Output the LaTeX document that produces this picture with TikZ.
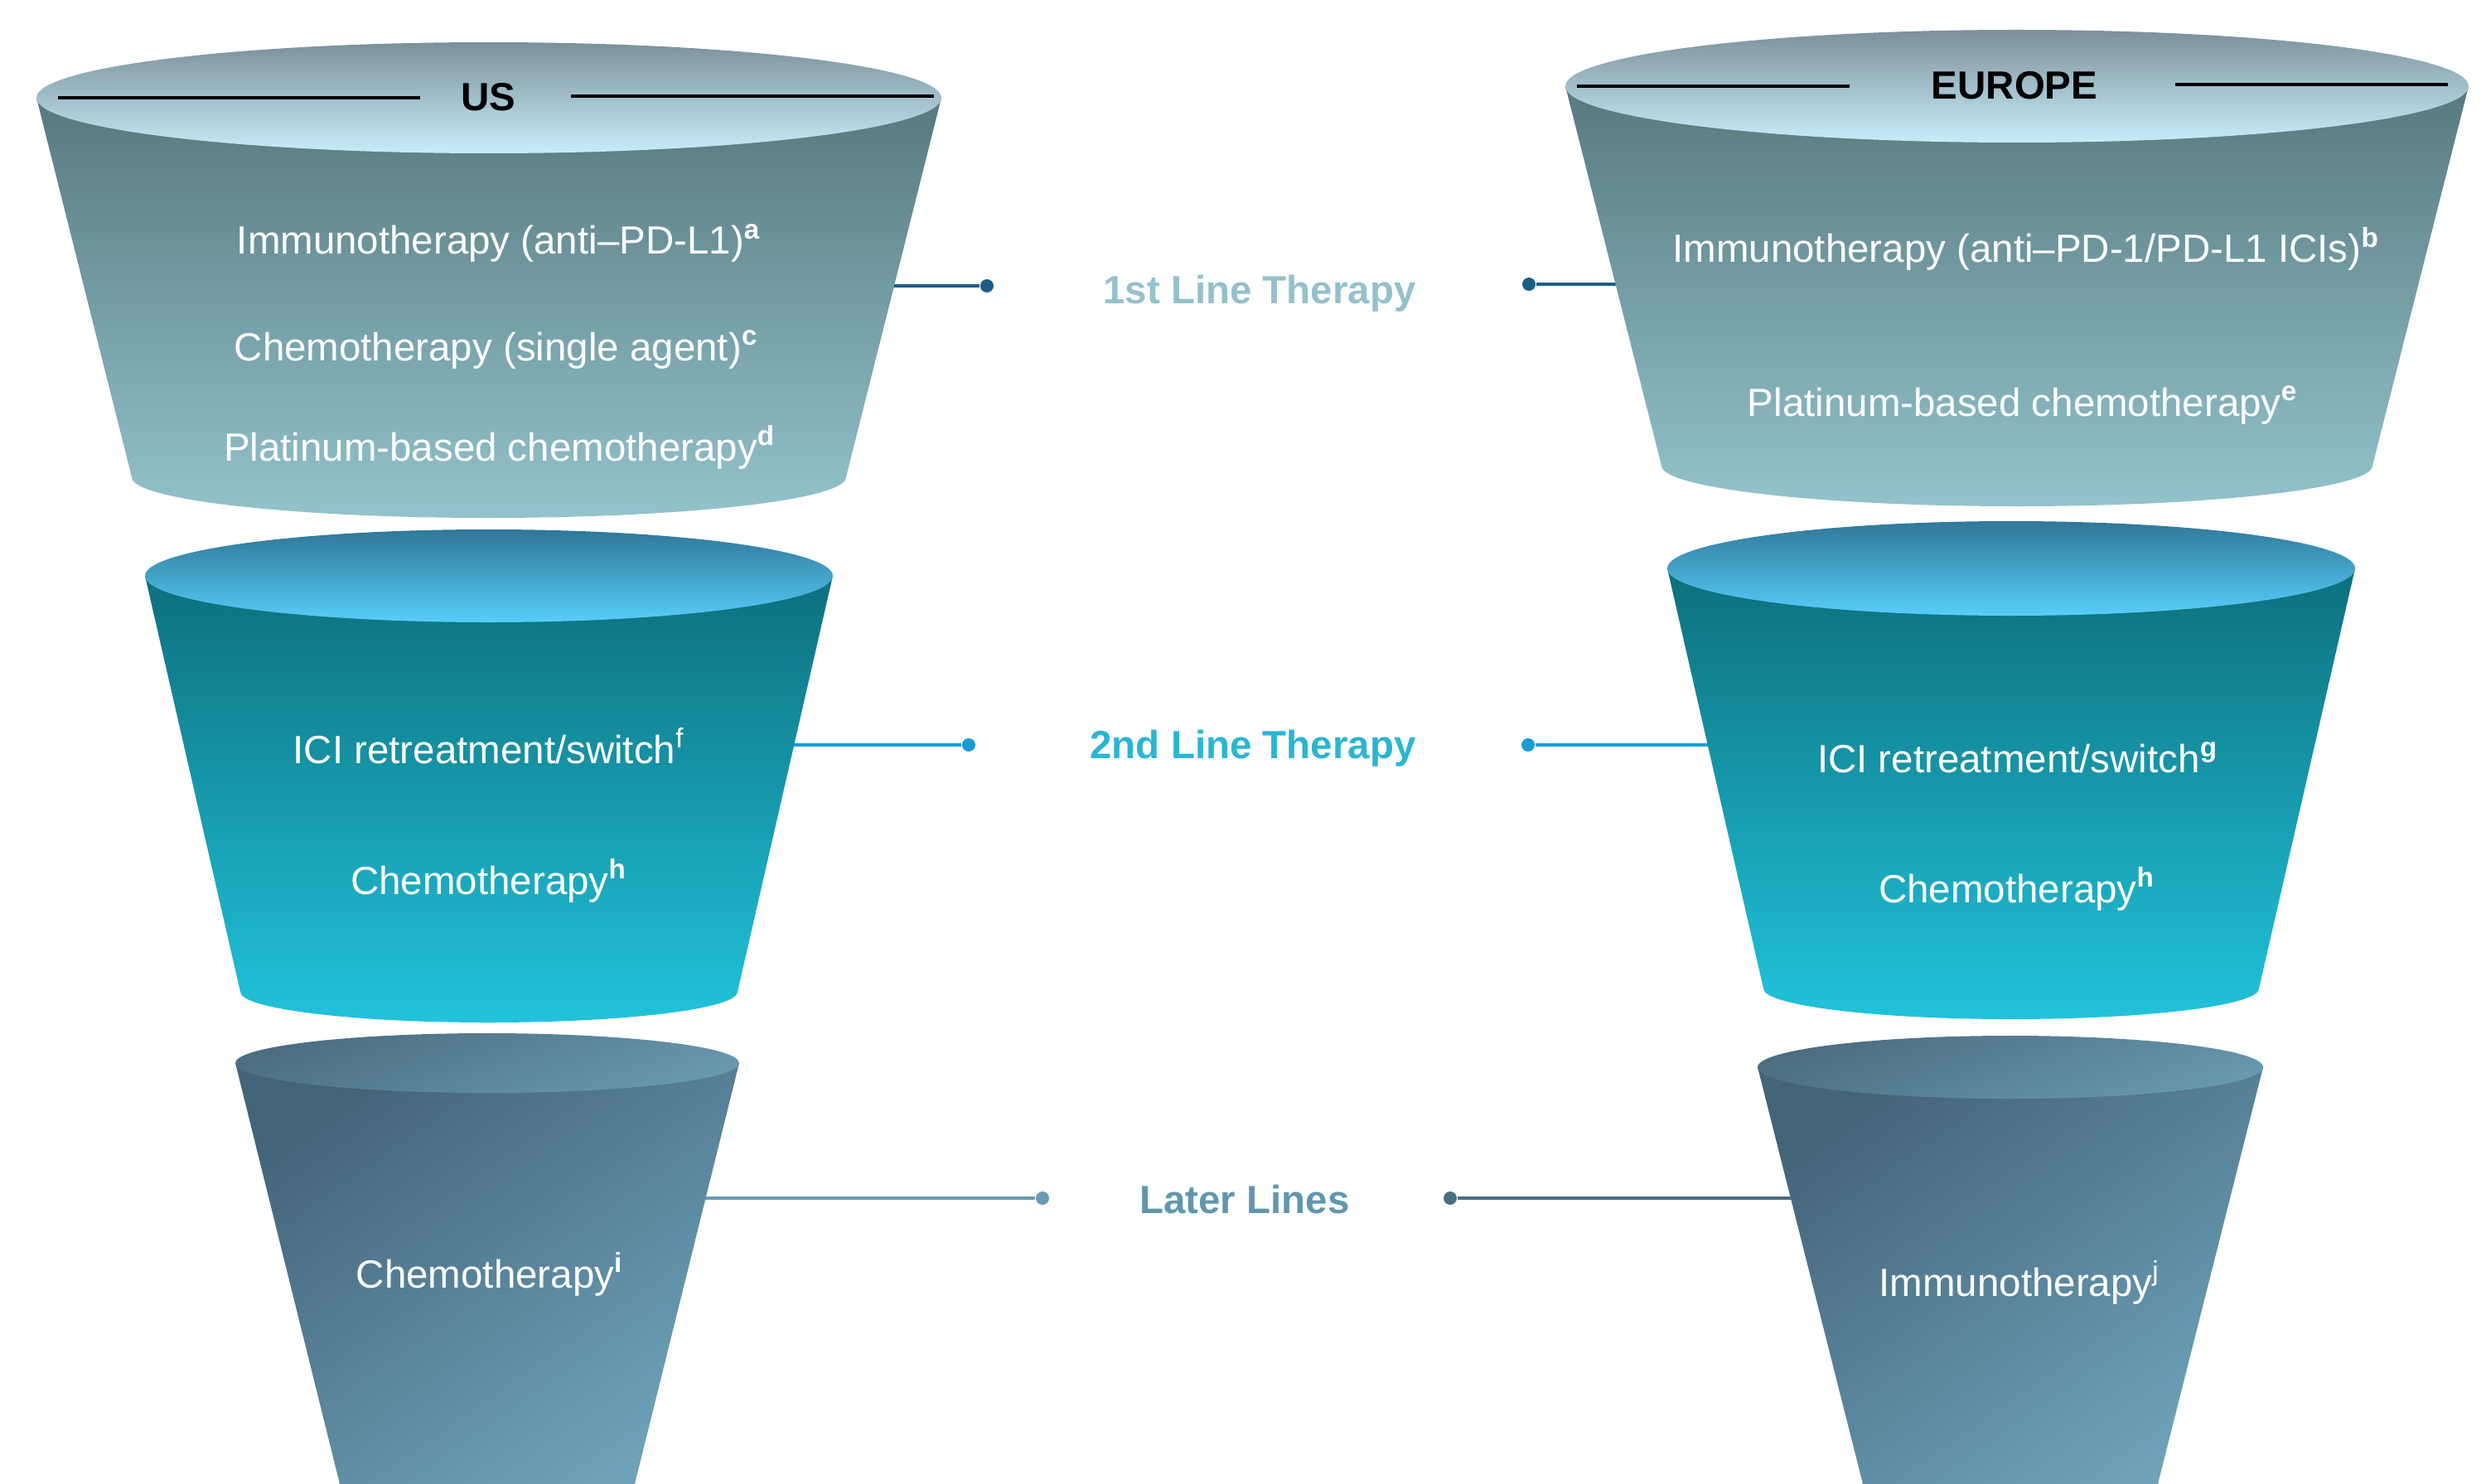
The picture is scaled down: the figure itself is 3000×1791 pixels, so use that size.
\documentclass[tikz,border=0pt]{standalone}
\usepackage{fontspec}
\setmainfont{Liberation Sans}
\usetikzlibrary{positioning}

\definecolor{lidAtop}{HTML}{7B919A}
\definecolor{lidAbot}{HTML}{C7EDFA}
\definecolor{bodyAtop}{HTML}{57797F}
\definecolor{bodyAbot}{HTML}{93C3CC}
\definecolor{lidBtop}{HTML}{307799}
\definecolor{lidBbot}{HTML}{57CEF9}
\definecolor{bodyBtop}{HTML}{0D6F7D}
\definecolor{bodyBbot}{HTML}{21C3DB}
\definecolor{lidCdark}{HTML}{4B6D80}
\definecolor{lidClight}{HTML}{6899AF}
\definecolor{bodyCdark}{HTML}{44647A}
\definecolor{bodyCmid}{HTML}{5F8CA1}
\definecolor{bodyClight}{HTML}{6DA2BA}
\definecolor{firstline}{HTML}{1B5E84}
\definecolor{firsttext}{HTML}{94C1CB}
\definecolor{secondline}{HTML}{1A9BD7}
\definecolor{secondtext}{HTML}{29B6D2}
\definecolor{laterline}{HTML}{6A9BB3}
\definecolor{latertext}{HTML}{6196AD}
\definecolor{laterdark}{HTML}{4B6E82}

% cup: #1 centre x, #2 rim y, #3/#4 rim radii, #5 base y, #6/#7 base radii,
%      #8 body shading, #9 rim shading
\newcommand{\drawcup}[9]{%
  \shade[#8] (#1-#3,#2) -- (#1-#6,#5)
    arc[start angle=180, end angle=0, x radius=#6, y radius=#7]
    -- (#1+#3,#2) -- cycle;
  \shade[#9] (#1,#2) ellipse[x radius=#3, y radius=#4];
}

\begin{document}
\begin{tikzpicture}[x=0.01cm, y=-0.01cm,
    item/.style={text=white, anchor=base, inner sep=0pt,
                 font=\fontsize{13.5}{16}\selectfont},
    stage/.style={anchor=base, inner sep=0pt,
                  font=\fontsize{13.5}{16}\selectfont\bfseries},
    region/.style={inner sep=0pt, font=\fontsize{13.5}{16}\selectfont\bfseries},
    rule/.style={line width=1.15pt, black},
    link/.style={line width=0.9pt},
    dot/.style={circle, fill, inner sep=0pt, minimum size=0.16cm},
    rim a/.style={top color=lidAtop, bottom color=lidAbot},
    body a/.style={top color=bodyAtop, bottom color=bodyAbot},
    rim b/.style={top color=lidBtop, bottom color=lidBbot},
    body b/.style={top color=bodyBtop, bottom color=bodyBbot},
    rim c/.style={top color=lidCdark, bottom color=lidClight, shading angle=20},
    body c/.style={top color=bodyCdark, middle color=bodyCmid,
                   bottom color=bodyClight, shading angle=35}
  ]
  \useasboundingbox (0,0) rectangle (3000,1791);
  \clip (0,0) rectangle (3000,1791);

  % Stage labels -----------------------------------------------------
  \node[stage, firsttext]  (first)  at (1520,366)  {1st Line Therapy};
  \node[stage, secondtext] (second) at (1512,915)  {2nd Line Therapy};
  \node[stage, latertext]  (later)  at (1502,1464) {Later Lines};

  % Connectors (run in under the cups) -------------------------------
  \coordinate (us1end) at (1000,345);
  \coordinate (eu1end) at (2050,343);
  \coordinate (us2end) at (900,899);
  \coordinate (eu2end) at (2120,899);
  \coordinate (us3end) at (800,1446);
  \node[dot, firstline]  (us1dot) at (1191,345)  {};
  \node[dot, firstline]  (eu1dot) at (1845,343)  {};
  \node[dot, secondline] (us2dot) at (1169,899)  {};
  \node[dot, secondline] (eu2dot) at (1844,899)  {};
  \node[dot, laterline]  (us3dot) at (1258,1446) {};
  \node[dot, laterdark]  (eu3dot) at (1750,1446) {};
  \node[dot, laterdark]  (eu3tip) at (2202,1446) {};
  \draw[link, firstline]  (us1end) -- (us1dot);
  \draw[link, firstline]  (eu1dot) -- (eu1end);
  \draw[link, secondline] (us2end) -- (us2dot);
  \draw[link, secondline] (eu2dot) -- (eu2end);
  \draw[link, laterline]  (us3end) -- (us3dot);
  \draw[link, laterdark]  (eu3dot) -- (eu3tip);

  % US ---------------------------------------------------------------
  \drawcup{590}{118}{546}{67}{576}{431}{49}{body a}{rim a}
  \drawcup{590}{695}{415}{56}{1197}{300}{37}{body b}{rim b}
  \drawcup{588}{1283}{304}{36}{1791}{178}{10}{body c}{rim c}

  \node[region] (us) at (589,117) {US};
  \draw[rule] (70,118) -- (507,118);
  \draw[rule] (689,116) -- (1127,116);

  \node[item] (us1a) at (602,307)  {Immunotherapy (anti–PD-L1)\textsuperscript{\bfseries a}};
  \node[item] (us1b) at (599,435)  {Chemotherapy (single agent)\textsuperscript{\bfseries c}};
  \node[item] (us1c) at (603,556)  {Platinum-based chemotherapy\textsuperscript{\bfseries d}};
  \node[item] (us2a) at (590,921)  {ICI retreatment/switch\textsuperscript{f}};
  \node[item] (us2b) at (590,1079) {Chemotherapy\textsuperscript{\bfseries h}};
  \node[item] (us3a) at (591,1554) {Chemotherapy\textsuperscript{\bfseries i}};

  % Europe -----------------------------------------------------------
  \drawcup{2434}{104}{545}{68}{562}{429}{49}{body a}{rim a}
  \drawcup{2427}{686}{415}{57}{1193}{299}{37}{body b}{rim b}
  \drawcup{2426}{1288}{305}{38}{1791}{178}{10}{body c}{rim c}

  \node[region] (europe) at (2431,103) {EUROPE};
  \draw[rule] (1903,104) -- (2232,104);
  \draw[rule] (2625,102) -- (2954,102);

  \node[item] (eu1a) at (2445,317)  {Immunotherapy (anti–PD-1/PD-L1 ICIs)\textsuperscript{\bfseries b}};
  \node[item] (eu1b) at (2441,502)  {Platinum-based chemotherapy\textsuperscript{\bfseries e}};
  \node[item] (eu2a) at (2435,932)  {ICI retreatment/switch\textsuperscript{\bfseries g}};
  \node[item] (eu2b) at (2434,1089) {Chemotherapy\textsuperscript{\bfseries h}};
  \node[item] (eu3a) at (2437,1564) {Immunotherapy\textsuperscript{j}};

  % line end seen faintly through the last cup
  \fill[laterdark, opacity=0.12] (eu3tip) circle[radius=8];
\end{tikzpicture}
\end{document}
